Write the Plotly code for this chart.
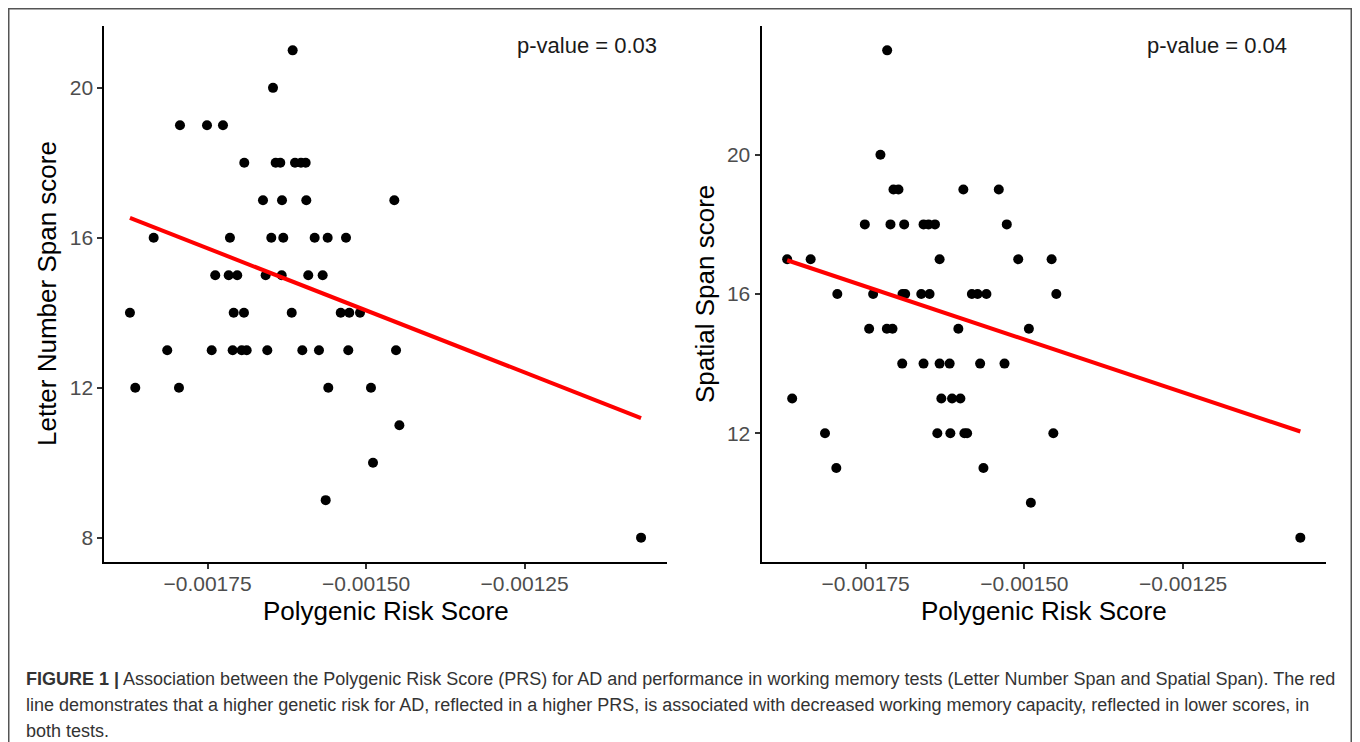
import plotly.graph_objects as go

# ---------------- data ----------------
# Left panel: Letter Number Span score vs Polygenic Risk Score
lns_prs = [
    -0.0016158,
    -0.0016468,
    -0.0017935, -0.0017509, -0.0017257,
    -0.0016921, -0.0016426, -0.0016353, -0.0016121, -0.0016027, -0.0015953,
    -0.0016626, -0.0016326, -0.0015943, -0.0014555,
    -0.0018350, -0.0017147, -0.0016495, -0.0016306, -0.0015811, -0.0015606, -0.0015317,
    -0.0017379, -0.0017167, -0.0017032, -0.0016584, -0.0016331, -0.0015912, -0.0015685,
    -0.0018724, -0.0017088, -0.0016926, -0.0016173, -0.0015400, -0.0015265, -0.0015096,
    -0.0018136, -0.0017435, -0.0017104, -0.0016962, -0.0016883, -0.0016558, -0.0016006,
    -0.0015743, -0.0015281, -0.0014528,
    -0.0018640, -0.0017951, -0.0015596, -0.0014923,
    -0.0014475,
    -0.0014891,
    -0.0015637,
    -0.0010664,
]
lns_score = [
    21,
    20,
    19, 19, 19,
    18, 18, 18, 18, 18, 18,
    17, 17, 17, 17,
    16, 16, 16, 16, 16, 16, 16,
    15, 15, 15, 15, 15, 15, 15,
    14, 14, 14, 14, 14, 14, 14,
    13, 13, 13, 13, 13, 13, 13, 13, 13, 13,
    12, 12, 12, 12,
    11,
    10,
    9,
    8,
]

# Right panel: Spatial Span score vs Polygenic Risk Score
ss_prs = [
    -0.0017162,
    -0.0017268,
    -0.0017063, -0.0016984, -0.0015962, -0.0015404,
    -0.0017514, -0.0017110, -0.0016894, -0.0016589, -0.0016510, -0.0016409, -0.0015278,
    -0.0018737, -0.0018367, -0.0016336, -0.0015098, -0.0014572,
    -0.0017947, -0.0017383, -0.0016920, -0.0016878, -0.0016625, -0.0016494, -0.0015828,
    -0.0015738, -0.0015599, -0.0014498,
    -0.0017446, -0.0017167, -0.0017078, -0.0016041, -0.0014930,
    -0.0016925, -0.0016589, -0.0016336, -0.0016178, -0.0015698, -0.0015314,
    -0.0018658, -0.0016309, -0.0016140, -0.0016009,
    -0.0018141, -0.0016372, -0.0016167, -0.0015946, -0.0015903, -0.0014545,
    -0.0017963, -0.0015646,
    -0.0014899,
    -0.0010655,
]
ss_score = [
    23,
    20,
    19, 19, 19, 19,
    18, 18, 18, 18, 18, 18, 18,
    17, 17, 17, 17, 17,
    16, 16, 16, 16, 16, 16, 16, 16, 16, 16,
    15, 15, 15, 15, 15,
    14, 14, 14, 14, 14, 14,
    13, 13, 13, 13,
    12, 12, 12, 12, 12, 12,
    11, 11,
    10,
    9,
]

# fitted regression lines (values at the ends of the PRS range)
lns_fit_y = [16.53, 11.19]
ss_fit_y = [16.97, 12.05]

x_tickvals = [-0.00175, -0.00150, -0.00125]
x_ticktext = ["\u22120.00175", "\u22120.00150", "\u22120.00125"]
lns_yticks = [8, 12, 16, 20]
ss_yticks = [12, 16, 20]

p_values = ["p-value = 0.03", "p-value = 0.04"]
y_titles = ["Letter Number Span score", "Spatial Span score"]
x_title = "Polygenic Risk Score"
caption_lines = [
    "<b>FIGURE 1 |</b> Association between the Polygenic Risk Score (PRS) for AD and performance in working memory tests (Letter Number Span and Spatial Span). The red",
    "line demonstrates that a higher genetic risk for AD, reflected in a higher PRS, is associated with decreased working memory capacity, reflected in lower scores, in",
    "both tests.",
]

# ---------------- figure ----------------
# The page body has an 8px margin, so the figure is laid out in page
# coordinates shifted by that offset.
OFF = 8
W, H = 1352, 734
FONT = "Liberation Sans, Arial, sans-serif"


def px(x):
    return (x - OFF) / W


def py(y):
    return 1 - (y - OFF) / H


def expand(vals, f=0.05):
    lo, hi = min(vals), max(vals)
    r = hi - lo
    return [lo - f * r, hi + f * r]


fig = go.Figure()

# left panel
fig.add_trace(go.Scatter(x=lns_prs, y=lns_score, mode="markers",
                         marker=dict(color="black", size=10),
                         xaxis="x", yaxis="y", showlegend=False))
fig.add_trace(go.Scatter(x=[min(lns_prs), max(lns_prs)], y=lns_fit_y, mode="lines",
                         line=dict(color="#ff0000", width=4),
                         xaxis="x", yaxis="y", showlegend=False))
# right panel
fig.add_trace(go.Scatter(x=ss_prs, y=ss_score, mode="markers",
                         marker=dict(color="black", size=10),
                         xaxis="x2", yaxis="y2", showlegend=False))
fig.add_trace(go.Scatter(x=[min(ss_prs), max(ss_prs)], y=ss_fit_y, mode="lines",
                         line=dict(color="#ff0000", width=4),
                         xaxis="x2", yaxis="y2", showlegend=False))

axis_common = dict(showgrid=False, zeroline=False, showline=True, linecolor="black",
                   linewidth=2, ticks="outside", ticklen=5, tickwidth=2,
                   tickcolor="#333333", automargin=False,
                   tickfont=dict(family=FONT, size=21, color="#4d4d4d"))

ydom = [py(562), py(26)]
fig.update_layout(
    width=W, height=H, autosize=False,
    margin=dict(l=0, r=0, t=0, b=0),
    paper_bgcolor="white", plot_bgcolor="white",
    xaxis=dict(domain=[px(104.4), px(666.6)], range=expand(lns_prs), anchor="y",
               tickvals=x_tickvals, ticktext=x_ticktext, ticklabelstandoff=-3,
               **axis_common),
    yaxis=dict(domain=ydom, range=expand(lns_score), anchor="x",
               tickvals=lns_yticks, **axis_common),
    xaxis2=dict(domain=[px(761.5), px(1326)], range=expand(ss_prs), anchor="y2",
                tickvals=x_tickvals, ticktext=x_ticktext, ticklabelstandoff=-3,
                **axis_common),
    yaxis2=dict(domain=ydom, range=expand(ss_score), anchor="x2",
                tickvals=ss_yticks, **axis_common),
)

annots = []
# p-values
for xc, txt in zip([587, 1217], p_values):
    annots.append(dict(x=px(xc), y=py(46), xref="paper", yref="paper", text=txt,
                       showarrow=False, xanchor="center", yanchor="middle",
                       font=dict(family=FONT, size=22, color="#1a1a1a")))
# axis titles
for xc, txt in zip([47, 705], y_titles):
    annots.append(dict(x=px(xc), y=py(294), xref="paper", yref="paper", text=txt,
                       showarrow=False, textangle=-90, xanchor="center", yanchor="middle",
                       font=dict(family=FONT, size=26, color="black")))
for xc in [385.5, 1043.7]:
    annots.append(dict(x=px(xc), y=py(611), xref="paper", yref="paper", text=x_title,
                       showarrow=False, xanchor="center", yanchor="middle",
                       font=dict(family=FONT, size=26, color="black")))
# caption
for yc, txt in zip([679, 705, 731], caption_lines):
    annots.append(dict(x=px(24), y=py(yc), xref="paper", yref="paper", text=txt,
                       showarrow=False, xanchor="left", yanchor="middle", align="left",
                       font=dict(family=FONT, size=18, color="#333333")))
fig.update_layout(annotations=annots)

# outer frame
fig.add_shape(type="rect", xref="paper", yref="paper",
              x0=px(8.75), x1=px(1351.25), y0=py(760), y1=py(8.75),
              line=dict(color="#555555", width=1.5), fillcolor="rgba(0,0,0,0)")

fig.write_html("out.html")
